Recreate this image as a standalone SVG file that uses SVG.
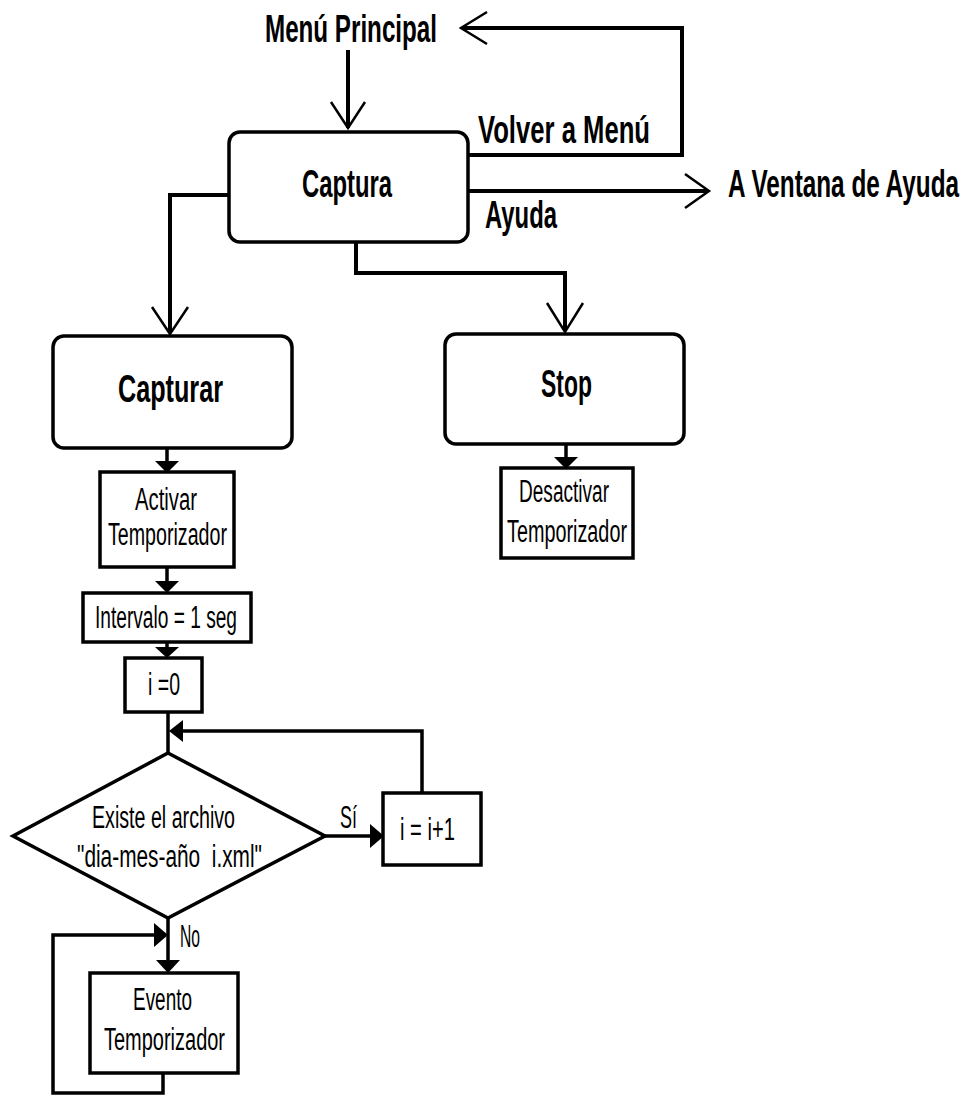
<svg xmlns="http://www.w3.org/2000/svg" width="970" height="1097" viewBox="0 0 970 1097">
  <style>
    .bg { fill: #ffffff; }
    .rbox { fill: #ffffff; stroke: #000000; stroke-width: 3.5; }
    .box { fill: #ffffff; stroke: #000000; stroke-width: 3.5; }
    .wire { fill: none; stroke: #000000; stroke-width: 4; stroke-linejoin: miter; }
    .thin { fill: none; stroke: #000000; stroke-width: 3.5; stroke-linejoin: miter; }
    .open { fill: none; stroke: #000000; stroke-width: 2.5; stroke-linejoin: miter; }
    .head { fill: #000000; stroke: none; }
    .title { font-family: "Liberation Sans", Arial, sans-serif; font-weight: bold; font-size: 38px; fill: #000000; }
    .label { font-family: "Liberation Sans", Arial, sans-serif; font-size: 31px; fill: #000000; }
  </style>

  <rect class="bg" x="0" y="0" width="970" height="1097"/>

  <!-- connectors -->
  <g id="connectors">
    <!-- main menu into Captura -->
    <line class="wire" x1="348" y1="50" x2="348" y2="128"/>
    <polyline class="open" points="331,102 348,128 365,102"/>
    <!-- back to main menu -->
    <polyline class="wire" points="468,155 682,155 682,28 462,28"/>
    <polyline class="open" points="487,12 461,28 487,44"/>
    <!-- help window -->
    <line class="wire" x1="468" y1="191" x2="708" y2="191"/>
    <polyline class="open" points="685,174 709,191 685,208"/>
    <!-- Captura to Capturar -->
    <polyline class="wire" points="229,195 170,195 170,333"/>
    <polyline class="open" points="152,307 170,334 188,307"/>
    <!-- Captura to Stop -->
    <polyline class="wire" points="356,242 356,273 565,273 565,331"/>
    <polyline class="open" points="547,303 565,332 583,303"/>
    <!-- Capturar to Activar -->
    <line class="thin" x1="167" y1="448" x2="167" y2="462"/>
    <polygon class="head" points="155,461 179,461 167,473"/>
    <!-- Stop to Desactivar -->
    <line class="thin" x1="566" y1="444" x2="566" y2="458"/>
    <polygon class="head" points="554,457 578,457 566,469"/>
    <!-- Activar to Intervalo -->
    <line class="thin" x1="167" y1="567" x2="167" y2="582"/>
    <polygon class="head" points="155,581 179,581 167,593"/>
    <!-- Intervalo to i=0 -->
    <line class="thin" x1="167" y1="642" x2="167" y2="648"/>
    <polygon class="head" points="155,647 179,647 167,658"/>
    <!-- i=0 to decision -->
    <line class="thin" x1="168" y1="712" x2="168" y2="753"/>
    <!-- increment back to decision -->
    <polyline class="thin" points="422,793 422,731 182,731"/>
    <polygon class="head" points="183,720 183,742 169,731"/>
    <!-- Sí branch -->
    <line class="thin" x1="325" y1="836" x2="372" y2="836"/>
    <polygon class="head" points="370,824 370,848 384,836"/>
    <!-- No branch -->
    <line class="thin" x1="168" y1="918" x2="168" y2="962"/>
    <polygon class="head" points="156,960 180,960 168,973"/>
    <!-- timer event loop -->
    <polyline class="thin" points="163,1073 163,1093 53,1093 53,935 155,935"/>
    <polygon class="head" points="154,923 154,947 168,935"/>
  </g>

  <!-- labels on connectors -->
  <g id="menu-principal">
    <text class="title" x="265" y="42" textLength="172" lengthAdjust="spacingAndGlyphs">Menú Principal</text>
  </g>
  <g id="volver-label">
    <text class="title" x="478" y="143" textLength="172" lengthAdjust="spacingAndGlyphs">Volver a Menú</text>
  </g>
  <g id="ayuda-label">
    <text class="title" x="485" y="228" textLength="72" lengthAdjust="spacingAndGlyphs">Ayuda</text>
  </g>
  <g id="ventana-ayuda" transform="translate(728,197) scale(0.64,1)">
    <text class="title" x="0" y="0">A Ventana de Ayuda</text>
  </g>

  <g id="captura">
    <rect class="rbox" x="229" y="132" width="239" height="110" rx="11" ry="11"/>
    <text class="title" x="302" y="197" textLength="90" lengthAdjust="spacingAndGlyphs">Captura</text>
  </g>

  <g id="capturar">
    <rect class="rbox" x="53" y="336" width="239" height="112" rx="11" ry="11"/>
    <text class="title" x="118" y="402" textLength="105" lengthAdjust="spacingAndGlyphs">Capturar</text>
  </g>

  <g id="stop">
    <rect class="rbox" x="445" y="334" width="239" height="110" rx="11" ry="11"/>
    <text class="title" x="541" y="397" textLength="51" lengthAdjust="spacingAndGlyphs">Stop</text>
  </g>

  <g id="desactivar">
    <rect class="box" x="501" y="468" width="132" height="90"/>
    <text class="label" x="519" y="502" textLength="90" lengthAdjust="spacingAndGlyphs">Desactivar</text>
    <text class="label" x="507" y="542" textLength="120" lengthAdjust="spacingAndGlyphs">Temporizador</text>
  </g>

  <g id="activar">
    <rect class="box" x="100" y="472" width="134" height="95"/>
    <text class="label" x="135" y="510" textLength="62" lengthAdjust="spacingAndGlyphs">Activar</text>
    <text class="label" x="108" y="545" textLength="119" lengthAdjust="spacingAndGlyphs">Temporizador</text>
  </g>

  <g id="intervalo">
    <rect class="box" x="83" y="593" width="168" height="49"/>
    <text class="label" x="95" y="628" textLength="142" lengthAdjust="spacingAndGlyphs">Intervalo = 1 seg</text>
  </g>

  <g id="init-i">
    <rect class="box" x="125" y="658" width="77" height="54"/>
    <text class="label" x="148" y="695" textLength="32" lengthAdjust="spacingAndGlyphs">i =0</text>
  </g>

  <g id="existe">
    <polygon class="box" points="168,753 325,836 168,918 13,836"/>
    <text class="label" x="92" y="828" textLength="143" lengthAdjust="spacingAndGlyphs">Existe el archivo</text>
    <text class="label" x="77" y="867" textLength="185" lengthAdjust="spacingAndGlyphs">"dia-mes-año &#160;i.xml"</text>
  </g>

  <g id="si-label">
    <text class="label" x="340" y="828" textLength="17" lengthAdjust="spacingAndGlyphs">Sí</text>
  </g>

  <g id="incremento">
    <rect class="box" x="383" y="793" width="98" height="72"/>
    <text class="label" x="400" y="840" textLength="55" lengthAdjust="spacingAndGlyphs">i = i+1</text>
  </g>

  <g id="no-label">
    <text class="label" x="180" y="947" textLength="20" lengthAdjust="spacingAndGlyphs">No</text>
  </g>

  <g id="evento">
    <rect class="box" x="90" y="973" width="148" height="100"/>
    <text class="label" x="133" y="1010" textLength="59" lengthAdjust="spacingAndGlyphs">Evento</text>
    <text class="label" x="104" y="1050" textLength="121" lengthAdjust="spacingAndGlyphs">Temporizador</text>
  </g>
</svg>
